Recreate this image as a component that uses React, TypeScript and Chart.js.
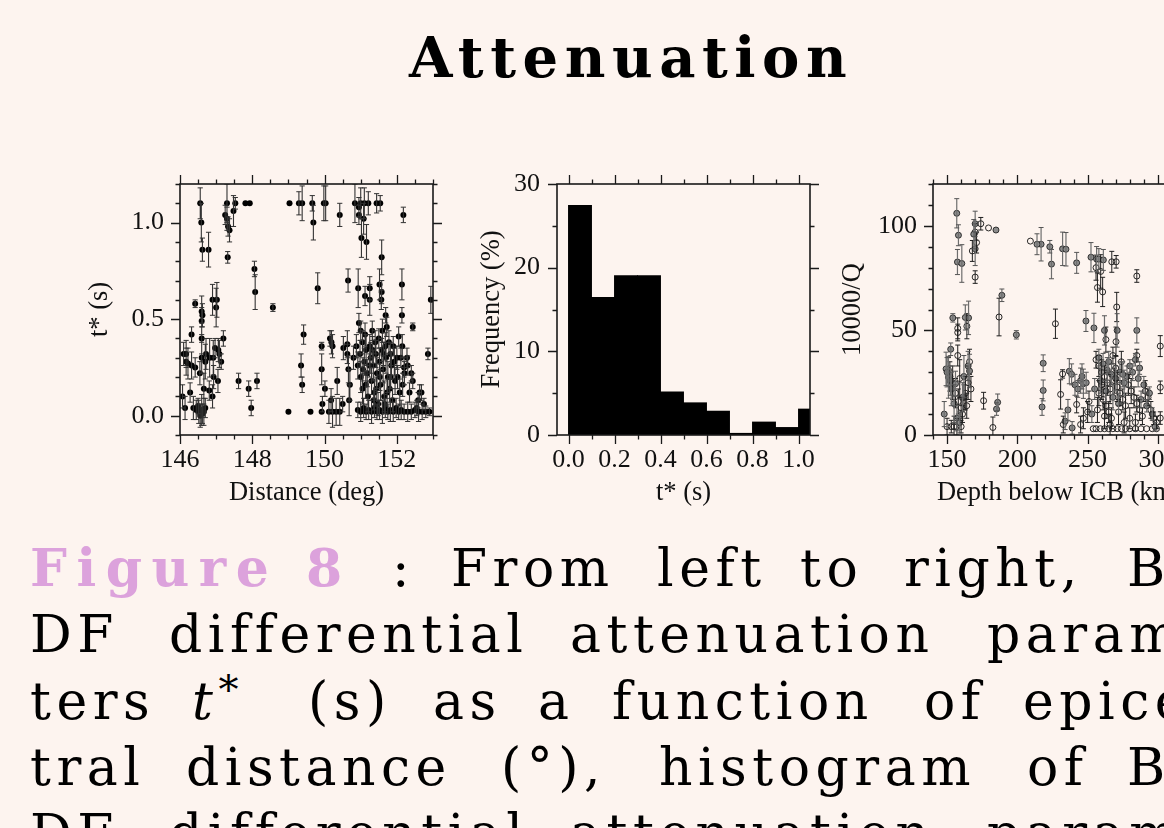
import React, { useEffect, useRef } from 'react';
import { Chart, registerables } from 'chart.js';

Chart.register(...registerables);

const BG = '#fdf4ef';
const SERIF = '"Liberation Serif", "Times New Roman", serif';
const CAPTION_FONT = '"DejaVu Serif", serif';

// ---------------- data ----------------
type Pt = [number, number, number]; // [x, y, half error]

// Left panel: t* (s) vs epicentral distance (deg)
const distanceTicks = [146, 148, 150, 152];
const tstarTicks = [0, 0.5, 1.0];
const distanceTstar: Pt[] = [
  [146.56, 1.10, 0.08], [146.59, 1.00, 0.10], [146.62, 0.86, 0.06], [146.79, 0.86, 0.09],
  [147.30, 1.10, 0.10], [147.25, 1.04, 0.05], [147.30, 1.02, 0.06], [147.33, 0.98, 0.05],
  [147.37, 0.96, 0.06], [147.48, 1.06, 0.08], [147.53, 1.10, 0.03], [147.81, 1.10, 0.0],
  [147.93, 1.10, 0.0], [147.32, 0.82, 0.03], [148.06, 0.76, 0.04], [148.08, 0.64, 0.09],
  [146.42, 0.58, 0.02], [146.60, 0.54, 0.08], [146.62, 0.52, 0.06], [146.60, 0.49, 0.07],
  [146.90, 0.60, 0.08], [147.02, 0.60, 0.09], [147.00, 0.56, 0.10], [146.32, 0.42, 0.04],
  [146.10, 0.32, 0.06], [146.17, 0.32, 0.07], [146.17, 0.28, 0.07], [146.22, 0.27, 0.08],
  [146.32, 0.26, 0.07], [146.42, 0.25, 0.05], [146.55, 0.22, 0.06], [146.60, 0.30, 0.08],
  [146.60, 0.40, 0.08], [146.72, 0.32, 0.08], [146.70, 0.28, 0.09], [146.82, 0.30, 0.10],
  [146.92, 0.30, 0.09], [146.97, 0.35, 0.05], [147.06, 0.34, 0.06], [147.09, 0.32, 0.07],
  [147.20, 0.40, 0.04], [147.14, 0.28, 0.04], [146.93, 0.20, 0.06], [147.05, 0.18, 0.06],
  [146.81, 0.13, 0.05], [146.66, 0.14, 0.08], [146.28, 0.12, 0.05], [146.07, 0.10, 0.06],
  [146.14, 0.04, 0.06], [146.37, 0.04, 0.06], [146.45, 0.03, 0.05], [146.52, 0.02, 0.06],
  [146.56, 0.00, 0.06], [146.60, 0.03, 0.08], [146.66, 0.02, 0.07], [146.70, 0.04, 0.05],
  [146.50, 0.05, 0.04], [146.62, 0.01, 0.05], [146.90, 0.10, 0.06], [147.62, 0.18, 0.04],
  [147.90, 0.14, 0.04], [147.97, 0.04, 0.04], [148.13, 0.18, 0.04], [148.57, 0.56, 0.02],
  [149.03, 1.10, 0.0], [149.29, 1.10, 0.06], [149.38, 1.10, 0.09], [149.66, 1.10, 0.04],
  [149.69, 1.00, 0.09], [149.98, 1.10, 0.09], [150.03, 1.10, 0.09], [150.42, 1.04, 0.06],
  [149.81, 0.66, 0.08], [150.65, 0.70, 0.06], [149.42, 0.42, 0.05], [149.35, 0.26, 0.06],
  [149.38, 0.16, 0.04], [149.00, 0.02, 0.0], [149.61, 0.02, 0.0], [149.92, 0.02, 0.0],
  [149.92, 0.36, 0.02], [149.92, 0.24, 0.08], [150.01, 0.14, 0.04], [149.94, 0.06, 0.04],
  [150.15, 0.40, 0.04], [150.19, 0.38, 0.06], [150.22, 0.36, 0.06], [150.52, 0.35, 0.06],
  [150.63, 0.37, 0.07], [150.63, 0.32, 0.05], [150.35, 0.18, 0.07], [150.18, 0.08, 0.06],
  [150.12, 0.02, 0.06], [150.22, 0.02, 0.08], [150.32, 0.02, 0.07], [150.42, 0.02, 0.07],
  [150.50, 0.06, 0.04], [150.68, 0.08, 0.08], [150.70, 0.16, 0.08], [150.66, 0.24, 0.07],
  [150.84, 1.10, 0.10], [150.95, 1.08, 0.05], [151.00, 1.10, 0.08], [150.95, 1.04, 0.05],
  [151.08, 1.02, 0.08], [151.10, 1.10, 0.08], [151.21, 1.10, 0.06], [151.02, 0.92, 0.10],
  [151.16, 0.90, 0.09], [151.44, 1.10, 0.05], [151.54, 1.10, 0.04], [152.18, 1.04, 0.04],
  [151.58, 0.82, 0.09], [150.93, 0.66, 0.10], [151.12, 0.62, 0.05], [151.25, 0.66, 0.06],
  [151.25, 0.60, 0.08], [151.52, 0.68, 0.08], [151.58, 0.64, 0.06], [151.57, 0.60, 0.05],
  [152.14, 0.68, 0.08], [152.94, 0.60, 0.07], [151.69, 0.52, 0.04], [152.14, 0.52, 0.04],
  [152.44, 0.46, 0.02], [150.95, 0.48, 0.05], [151.00, 0.44, 0.05], [152.86, 0.32, 0.03],
  [150.80, 0.30, 0.06], [150.88, 0.36, 0.06], [150.92, 0.26, 0.07], [150.98, 0.32, 0.07],
  [151.00, 0.20, 0.08], [151.05, 0.38, 0.06], [151.05, 0.14, 0.08], [151.10, 0.28, 0.07],
  [151.12, 0.42, 0.06], [151.15, 0.34, 0.08], [151.18, 0.22, 0.07], [151.20, 0.10, 0.08],
  [151.25, 0.36, 0.06], [151.28, 0.30, 0.08], [151.30, 0.18, 0.07], [151.32, 0.44, 0.05],
  [151.35, 0.26, 0.08], [151.38, 0.12, 0.07], [151.40, 0.38, 0.06], [151.42, 0.32, 0.07],
  [151.45, 0.22, 0.08], [151.48, 0.06, 0.06], [151.50, 0.40, 0.05], [151.52, 0.28, 0.07],
  [151.55, 0.16, 0.08], [151.58, 0.34, 0.06], [151.60, 0.44, 0.06], [151.62, 0.24, 0.07],
  [151.65, 0.10, 0.08], [151.68, 0.36, 0.07], [151.70, 0.30, 0.08], [151.72, 0.46, 0.05],
  [151.75, 0.20, 0.08], [151.78, 0.38, 0.06], [151.80, 0.14, 0.07], [151.82, 0.32, 0.06],
  [151.85, 0.26, 0.07], [151.88, 0.08, 0.06], [151.90, 0.36, 0.05], [151.95, 0.18, 0.07],
  [152.00, 0.30, 0.06], [152.05, 0.41, 0.05], [152.08, 0.12, 0.07], [152.11, 0.30, 0.05],
  [152.15, 0.36, 0.06], [152.20, 0.25, 0.05], [152.21, 0.22, 0.06], [152.28, 0.30, 0.05],
  [152.30, 0.26, 0.05], [152.35, 0.12, 0.05], [152.40, 0.22, 0.04], [152.44, 0.18, 0.04],
  [152.55, 0.04, 0.04], [152.59, 0.08, 0.04], [152.63, 0.12, 0.04], [152.68, 0.12, 0.04],
  [152.75, 0.06, 0.03], [150.92, 0.03, 0.04], [151.00, 0.02, 0.05], [151.08, 0.04, 0.05],
  [151.15, 0.02, 0.04], [151.22, 0.03, 0.05], [151.30, 0.02, 0.06], [151.38, 0.04, 0.05],
  [151.45, 0.02, 0.04], [151.52, 0.03, 0.05], [151.60, 0.02, 0.06], [151.68, 0.04, 0.05],
  [151.75, 0.02, 0.04], [151.82, 0.03, 0.06], [151.90, 0.02, 0.05], [151.98, 0.04, 0.05],
  [152.05, 0.02, 0.04], [152.12, 0.03, 0.05], [152.20, 0.02, 0.04], [152.30, 0.02, 0.05],
  [152.40, 0.02, 0.04], [152.50, 0.03, 0.04], [152.60, 0.02, 0.05], [152.70, 0.02, 0.04],
  [152.80, 0.02, 0.03], [152.90, 0.02, 0.02], [151.06, 0.24, 0.06], [151.14, 0.16, 0.07],
  [151.24, 0.26, 0.06], [151.33, 0.34, 0.07], [151.43, 0.14, 0.06], [151.53, 0.20, 0.07],
  [151.63, 0.32, 0.06], [151.73, 0.12, 0.07], [151.83, 0.20, 0.06], [151.93, 0.28, 0.07],
  [152.02, 0.20, 0.06], [152.16, 0.16, 0.06], [151.36, 0.08, 0.05], [151.66, 0.06, 0.05],
];

// Middle panel: histogram of t* (bins of 0.1 s)
const histBinStart = [0.0, 0.1, 0.2, 0.3, 0.4, 0.5, 0.6, 0.7, 0.8, 0.9, 1.0];
const histFrequency = [27.5, 16.5, 19.1, 19.1, 5.2, 3.9, 2.9, 0.25, 1.6, 0.95, 3.15];
const histXTicks = [0, 0.2, 0.4, 0.6, 0.8, 1.0];
const histYTicks = [0, 10, 20, 30];

// Right panel: 10000/Q vs depth below ICB (km)
const depthTicks = [150, 200, 250, 300];
const invQTicks = [0, 50, 100];
const depthInvQGray: Pt[] = [
  [156.9, 106, 7], [158.1, 95.5, 5], [157.4, 82.7, 6], [160.5, 82, 9], [170, 101, 6],
  [169, 96, 7], [170, 89, 8], [154.1, 56, 2], [163, 56.2, 6], [165.3, 56, 8],
  [152.6, 41, 3], [149.3, 31.6, 8], [151, 27.6, 10], [152.3, 26, 7], [156, 24.5, 6],
  [162, 28, 10], [165, 33, 7], [166, 30.6, 8], [148, 10, 6], [189, 66.8, 3],
  [199.3, 47.9, 2], [185.2, 12.4, 3], [186, 15.6, 4], [184.8, 98, 0], [216.9, 91.2, 8],
  [214, 91.2, 5], [218.4, 34.3, 4], [218.4, 21.3, 5], [217.6, 13.4, 4], [223.1, 90, 3],
  [224.3, 81.7, 7], [232.2, 89, 8], [234.6, 88.8, 8], [242.2, 82.3, 5], [252.4, 85, 7],
  [256.4, 84.1, 6], [258, 84.1, 5], [261.2, 83.7, 5], [248.8, 54.5, 5], [254.5, 51.2, 7],
  [285, 50, 6], [237, 30.5, 6], [238.6, 29, 5], [236, 12, 5], [239, 3.4, 3],
  [234, 6.6, 4], [245, 26, 6], [247, 24.5, 7], [280, 33, 3], [271, 50, 8],
  [262, 50, 7], [150, 30, 7], [153, 22, 8], [155, 15, 9], [157, 8, 6],
  [159, 6, 5], [161, 18, 7], [258, 37, 4], [261, 34, 5], [264, 31, 6],
  [267, 29, 5], [270, 27, 6], [273, 30, 5], [276, 25, 6], [278, 28, 5],
  [282, 30, 4], [286, 27, 4], [290, 24, 4], [294, 20, 3], [259, 26, 6],
  [263, 21, 5], [268, 18, 6], [272, 15, 5], [275, 29, 6], [288, 17, 4],
  [292, 14, 3], [296, 10, 3], [298, 4, 2], [265, 35, 5], [287, 32, 3],
  [284, 36, 3], [255, 22, 5], [253, 10, 4], [241, 24, 5], [243, 22, 4],
  [246, 28, 6], [249, 25, 5],
];
const depthInvQOpen: Pt[] = [
  [170, 75.5, 3], [174, 101, 3], [179.5, 99, 0], [187, 56.4, 9], [209.3, 92.7, 0],
  [157.6, 51, 5], [157.6, 49, 4], [157.6, 38, 5], [164.1, 52, 6], [150, 4, 4],
  [153, 4, 3], [155, 4, 5], [157, 4, 4], [160, 4, 3], [176, 16.4, 4],
  [182.6, 3.6, 5], [227.1, 53.2, 7], [257, 70.5, 7], [260.7, 68.4, 7], [256, 80, 6],
  [259.3, 78.2, 8], [267.2, 82.8, 5], [270.3, 82.8, 3], [285, 76, 3], [270.7, 61.2, 7],
  [263, 45.6, 6], [270.2, 44.6, 7], [285, 38, 3], [301.7, 42.5, 5], [301.7, 22.8, 3],
  [301.7, 8.1, 3], [232.2, 29.2, 2], [230.8, 19.4, 7], [232.7, 5, 4], [242.2, 14.6, 4],
  [245, 5, 4], [254, 3, 0], [151, 31, 6], [152, 28, 7], [154, 25, 8],
  [156, 20, 7], [158, 16, 6], [159, 27, 9], [160, 13, 5], [161, 10, 4],
  [162, 18, 6], [164, 14, 6], [165, 25, 8], [167, 22, 6], [166, 35, 6],
  [163, 20, 8], [170, 97, 4], [171, 92, 5], [168, 88, 5], [256, 36, 4],
  [258, 33, 5], [260, 30, 6], [262, 28, 5], [264, 25, 6], [266, 22, 7],
  [258, 20, 6], [261, 17, 5], [263, 14, 6], [265, 11, 5], [267, 8, 5],
  [269, 26, 6], [271, 23, 7], [273, 20, 6], [275, 17, 5], [277, 14, 6],
  [279, 24, 5], [281, 21, 6], [283, 18, 5], [285, 15, 4], [287, 12, 5],
  [289, 9, 4], [291, 21, 5], [293, 18, 4], [295, 12, 4], [297, 8, 3],
  [299, 6, 3], [270, 32, 6], [274, 35, 5], [268, 38, 4], [260, 24, 7],
  [262, 9, 6], [257, 12, 6], [272, 11, 6], [276, 6, 5], [280, 8, 5],
  [284, 6, 4], [266, 5, 5], [256, 3, 0], [259, 3, 0], [262, 3, 0],
  [265, 3, 0], [268, 3, 0], [271, 3, 0], [274, 3, 0], [277, 3, 0],
  [280, 3, 0], [284, 3, 0], [288, 3, 0], [292, 3, 0], [296, 3, 0],
  [299, 3, 0], [251, 16, 5], [250, 11, 5], [247, 8, 5],
];

// Caption text
const captionWords: string[][] = [
  ['Figure 8', ':', 'From', 'left', 'to', 'right,', 'BC-'],
  ['DF', 'differential', 'attenuation', 'parame-'],
  ['ters', 't*', '(s)', 'as', 'a', 'function', 'of', 'epicen-'],
  ['tral', 'distance', '(°),', 'histogram', 'of', 'BC-'],
  ['DF', 'differential', 'attenuation', 'parame-'],
];

// ---------------- layout (not data) ----------------
const captionX: number[][] = [
  [30, 392, 451, 657, 800, 904, 1127],
  [30, 169, 570, 987],
  [30, 192, 308, 433, 538, 612, 924, 1023],
  [30, 186, 501, 659, 1027, 1127],
  [30, 169, 570, 987],
];
const captionBaseline = [586, 652, 719, 785, 851];

// ---------------- helpers ----------------
function errorBarData(points: Pt[]) {
  const out: any[] = [];
  for (const [x, y, e] of points) {
    if (e <= 0) continue;
    out.push({ x, y: y - e }, { x, y: y + e }, { x, y: null });
  }
  return out;
}
const markerData = (points: Pt[]) => points.map(([x, y]) => ({ x, y }));

const frameTicksPlugin = {
  id: 'frameTicks',
  afterDatasetsDraw(chart: any, _args: any, opts: any) {
    const { ctx, chartArea } = chart;
    const { left, right, top, bottom } = chartArea;
    const xs = chart.scales.x;
    const ys = chart.scales.y;
    ctx.save();
    ctx.strokeStyle = '#1a1a1a';
    ctx.lineWidth = 1.6;
    ctx.strokeRect(left, top, right - left, bottom - top);
    ctx.lineWidth = 1.3;
    const each = (min: number, max: number, step: number, fn: (v: number) => void) => {
      const n0 = Math.ceil(min / step - 1e-6);
      const n1 = Math.floor(max / step + 1e-6);
      for (let n = n0; n <= n1; n++) fn(n * step);
    };
    const isMajor = (v: number, step: number) => Math.abs(v / step - Math.round(v / step)) < 1e-6;
    ctx.beginPath();
    each(xs.min, xs.max, opts.xMinor, (v) => {
      const len = isMajor(v, opts.xMajor) ? 9 : 4.5;
      const px = Math.round(xs.getPixelForValue(v)) + 0.5;
      ctx.moveTo(px, bottom); ctx.lineTo(px, bottom + len);
      ctx.moveTo(px, top); ctx.lineTo(px, top - len);
    });
    each(ys.min, ys.max, opts.yMinor, (v) => {
      const len = isMajor(v, opts.yMajor) ? 9 : 4.5;
      const py = Math.round(ys.getPixelForValue(v)) + 0.5;
      ctx.moveTo(left, py); ctx.lineTo(left - len, py);
      ctx.moveTo(right, py); ctx.lineTo(right + len, py);
    });
    ctx.stroke();
    ctx.restore();
  },
};

type AxisCfg = {
  min: number; max: number; ticks: number[]; decimals: number;
  title: string; titlePad: number; labelPad: number;
};

function scaleOptions(a: AxisCfg, isX: boolean, fitSize: number) {
  return {
    type: 'linear',
    position: isX ? 'bottom' : 'left',
    min: a.min,
    max: a.max,
    offset: false,
    beginAtZero: false,
    grid: { display: false, drawTicks: false },
    border: { display: false },
    afterBuildTicks: (s: any) => { s.ticks = a.ticks.map((v) => ({ value: v })); },
    afterFit: (s: any) => {
      if (isX) s.height = fitSize; else s.width = fitSize;
      s.paddingTop = 0; s.paddingBottom = 0; s.paddingLeft = 0; s.paddingRight = 0;
    },
    ticks: {
      autoSkip: false, maxRotation: 0, minRotation: 0, padding: a.labelPad,
      color: '#111', font: { size: 26, family: SERIF, lineHeight: 1.2 },
      callback: (v: any) => Number(v).toFixed(a.decimals),
    },
    title: {
      display: true, text: a.title, color: '#111',
      font: { size: 26.5, family: SERIF, lineHeight: 1.2 },
      padding: isX ? { top: 0, bottom: a.titlePad } : { top: a.titlePad, bottom: 0 },
    },
  };
}

type Geom = { L: number; T: number; R: number; B: number };
const LEFT_SPACE = 100, TOP_SPACE = 20, RIGHT_SPACE = 25, BOTTOM_SPACE = 80;

function baseOptions(x: AxisCfg, y: AxisCfg, ticks: any) {
  return {
    responsive: false,
    animation: false,
    events: [],
    layout: { autoPadding: false, padding: { top: TOP_SPACE, right: RIGHT_SPACE, left: 0, bottom: 0 } },
    plugins: { legend: { display: false }, tooltip: { enabled: false }, frameTicks: ticks },
    scales: { x: scaleOptions(x, true, BOTTOM_SPACE), y: scaleOptions(y, false, LEFT_SPACE) },
  };
}

function Panel({ geom, build }: { geom: Geom; build: () => any }) {
  const ref = useRef<HTMLCanvasElement>(null);
  const w = geom.R - geom.L + LEFT_SPACE + RIGHT_SPACE;
  const h = geom.B - geom.T + TOP_SPACE + BOTTOM_SPACE;
  useEffect(() => {
    const chart = new Chart(ref.current as HTMLCanvasElement, build());
    return () => chart.destroy();
  }, []);
  return (
    <canvas
      ref={ref}
      width={w}
      height={h}
      style={{ position: 'absolute', left: geom.L - LEFT_SPACE, top: geom.T - TOP_SPACE, width: w, height: h }}
    />
  );
}

function buildDistance() {
  return {
    type: 'scatter',
    data: {
      datasets: [
        {
          data: errorBarData(distanceTstar), showLine: true, spanGaps: false,
          borderColor: '#333', borderWidth: 1.1, pointStyle: 'line', pointRadius: 2.6,
          pointBorderColor: '#333', pointBorderWidth: 1,
        },
        {
          data: markerData(distanceTstar), pointStyle: 'circle', pointRadius: 3,
          backgroundColor: '#000', borderColor: '#000', pointBorderWidth: 0,
        },
      ],
    },
    options: baseOptions(
      { min: 146, max: 153, ticks: distanceTicks, decimals: 0, title: 'Distance (deg)', titlePad: 6, labelPad: 10 },
      { min: -0.1, max: 1.2, ticks: tstarTicks, decimals: 1, title: 't* (s)', titlePad: 4, labelPad: 16 },
      { xMajor: 2, xMinor: 0.5, yMajor: 0.5, yMinor: 0.1 },
    ),
    plugins: [frameTicksPlugin],
  };
}

function buildHistogram() {
  return {
    type: 'bar',
    data: {
      datasets: [
        {
          data: histBinStart.map((s, i) => ({ x: s + 0.05, y: histFrequency[i] })),
          backgroundColor: '#000', borderWidth: 0, barPercentage: 1.04, categoryPercentage: 1, grouped: false,
        },
      ],
    },
    options: baseOptions(
      { min: -0.05, max: 1.05, ticks: histXTicks, decimals: 1, title: 't* (s)', titlePad: 6, labelPad: 10 },
      { min: 0, max: 30, ticks: histYTicks, decimals: 0, title: 'Frequency (%)', titlePad: 19, labelPad: 17 },
      { xMajor: 0.2, xMinor: 0.1, yMajor: 10, yMinor: 5 },
    ),
    plugins: [frameTicksPlugin],
  };
}

function buildDepth() {
  return {
    type: 'scatter',
    data: {
      datasets: [
        {
          data: errorBarData(depthInvQGray), showLine: true, spanGaps: false,
          borderColor: '#6e6e6e', borderWidth: 1.2, pointStyle: 'line', pointRadius: 2.5,
          pointBorderColor: '#555', pointBorderWidth: 1,
        },
        {
          data: errorBarData(depthInvQOpen), showLine: true, spanGaps: false,
          borderColor: '#1e1e1e', borderWidth: 1, pointStyle: 'line', pointRadius: 2.5,
          pointBorderColor: '#1e1e1e', pointBorderWidth: 1,
        },
        {
          data: markerData(depthInvQGray), pointStyle: 'circle', pointRadius: 3,
          backgroundColor: '#8c8c8c', borderColor: '#222', pointBorderWidth: 0.9,
        },
        {
          data: markerData(depthInvQOpen), pointStyle: 'circle', pointRadius: 3,
          backgroundColor: 'rgba(0,0,0,0)', borderColor: '#111', pointBorderWidth: 0.9,
        },
      ],
    },
    options: baseOptions(
      { min: 140, max: 320, ticks: depthTicks, decimals: 0, title: 'Depth below ICB (km)', titlePad: 6, labelPad: 10 },
      { min: 0, max: 120, ticks: invQTicks, decimals: 0, title: '10000/Q', titlePad: 4, labelPad: 16 },
      { xMajor: 50, xMinor: 10, yMajor: 50, yMinor: 10 },
    ),
    plugins: [frameTicksPlugin],
  };
}

function CaptionWord({ text }: { text: string }) {
  if (text === 't*') {
    return (
      <span>
        <span style={{ fontStyle: 'italic' }}>t</span>
        <span style={{ position: 'relative', top: -16, fontSize: 40 }}>*</span>
      </span>
    );
  }
  return <span>{text}</span>;
}

export default function App() {
  return (
    <div
      style={{
        position: 'fixed', left: 0, top: 0, width: 1164, height: 828, overflow: 'hidden',
        background: BG, color: '#000',
      }}
    >
      <div
        style={{
          position: 'absolute', left: 631, top: 29, transform: 'translateX(-50%)', whiteSpace: 'nowrap',
          fontFamily: CAPTION_FONT, fontWeight: 'bold', fontSize: 56, lineHeight: '56px', letterSpacing: 6.5,
        }}
      >
        Attenuation
      </div>

      <Panel geom={{ L: 180, T: 184, R: 433, B: 435 }} build={buildDistance} />
      <Panel geom={{ L: 557, T: 184, R: 810, B: 435 }} build={buildHistogram} />
      <Panel geom={{ L: 933, T: 184, R: 1186, B: 435 }} build={buildDepth} />

      {captionWords.map((words, li) =>
        words.map((w, wi) => {
          const isFig = li === 0 && wi === 0;
          return (
            <div
              key={li + '-' + wi}
              style={{
                position: 'absolute', left: captionX[li][wi], top: captionBaseline[li] - 44,
                whiteSpace: 'nowrap', fontFamily: CAPTION_FONT, fontSize: 52, lineHeight: '52px',
                letterSpacing: isFig ? 9.5 : 5.5, fontWeight: isFig ? 'bold' : 'normal',
                color: isFig ? '#dca2dc' : '#000',
              }}
            >
              <CaptionWord text={w} />
            </div>
          );
        }),
      )}
    </div>
  );
}
